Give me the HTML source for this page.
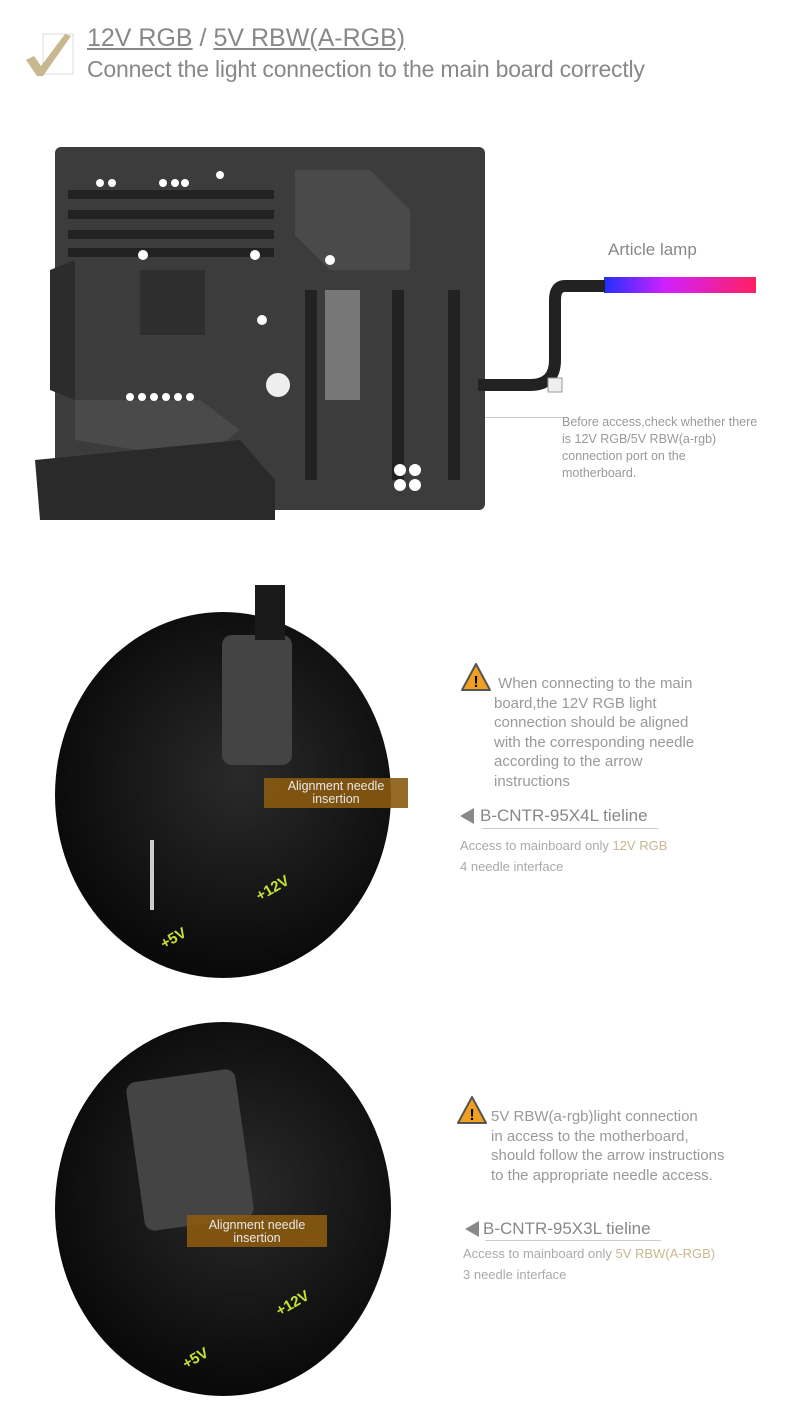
<!DOCTYPE html>
<html><head><meta charset="utf-8"><style>
body{margin:0;width:792px;height:1418px;background:#fff;position:relative;overflow:hidden;font-family:"Liberation Sans",sans-serif}
.a{position:absolute}
.t{color:#8a8a8a}
</style></head><body>
<svg class="a" style="left:25px;top:30px" width="55" height="50"><rect x="18" y="4" width="30" height="40" fill="none" stroke="#ddd"/><path d="M1 30 L9 26 L16 36 L40 4 L46 6 L18 46 L12 46 Z" fill="#c8b890"/></svg>
<div class="a t" style="left:87px;top:24px;font-size:25px;color:#888"><u>12V RGB</u> / <u>5V RBW(A-RGB)</u></div>
<div class="a t" style="left:87px;top:56px;font-size:23px;color:#888;letter-spacing:-0.2px">Connect the light connection to the main board correctly</div>

<!-- motherboard -->
<svg class="a" style="left:30px;top:140px" width="470" height="385">
<rect x="25" y="7" width="430" height="363" rx="6" fill="#3c3c3c"/>
<rect x="38" y="50" width="206" height="9" fill="#222"/><rect x="38" y="70" width="206" height="9" fill="#222"/><rect x="38" y="90" width="206" height="9" fill="#222"/><rect x="38" y="108" width="206" height="9" fill="#222"/>
<path d="M265 30 L340 30 L380 70 L380 130 L300 130 L265 95 Z" fill="#4a4a4a"/>
<rect x="110" y="130" width="65" height="65" fill="#2e2e2e"/>
<rect x="295" y="150" width="35" height="110" fill="#777"/>
<rect x="275" y="150" width="12" height="190" fill="#222"/><rect x="362" y="150" width="12" height="190" fill="#222"/><rect x="418" y="150" width="12" height="190" fill="#222"/>
<path d="M20 130 L45 120 L45 260 L20 250 Z" fill="#2c2c2c"/>
<path d="M45 260 L170 260 L210 290 L170 320 L45 300 Z" fill="#4a4a4a"/>
<path d="M5 320 L210 300 L245 340 L245 380 L10 380 Z" fill="#2a2a2a"/>
<circle cx="248" cy="245" r="12" fill="#eee"/>
<g fill="#fff"><circle cx="70" cy="43" r="4"/><circle cx="82" cy="43" r="4"/><circle cx="133" cy="43" r="4"/><circle cx="145" cy="43" r="4"/><circle cx="155" cy="43" r="4"/><circle cx="190" cy="35" r="4"/><circle cx="113" cy="115" r="5"/><circle cx="225" cy="115" r="5"/><circle cx="300" cy="120" r="5"/><circle cx="232" cy="180" r="5"/><circle cx="100" cy="257" r="4"/><circle cx="112" cy="257" r="4"/><circle cx="124" cy="257" r="4"/><circle cx="136" cy="257" r="4"/><circle cx="148" cy="257" r="4"/><circle cx="160" cy="257" r="4"/><circle cx="370" cy="330" r="6"/><circle cx="385" cy="330" r="6"/><circle cx="370" cy="345" r="6"/><circle cx="385" cy="345" r="6"/></g>
</svg>
<!-- lamp -->
<div class="a t" style="left:608px;top:240px;font-size:17px;color:#888">Article lamp</div>
<div class="a" style="left:604px;top:277px;width:152px;height:16px;background:linear-gradient(90deg,#2030ff,#d020ff 40%,#ff2060)"></div>
<svg class="a" style="left:470px;top:280px" width="140" height="140"><path d="M135 6 L95 6 Q85 6 85 20 L85 80 Q85 105 60 105 L8 105" fill="none" stroke="#222" stroke-width="12"/><rect x="78" y="98" width="14" height="14" fill="#eee" stroke="#999"/></svg>
<div class="a" style="left:485px;top:417px;width:80px;height:1px;background:#ccc"></div>
<div class="a t" style="left:562px;top:414px;font-size:12.5px;line-height:17px;color:#999;width:200px">Before access,check whether there is 12V RGB/5V RBW(a-rgb) connection port on the motherboard.</div>

<!-- circle 1 -->
<div class="a" style="left:55px;top:612px;width:336px;height:366px;border-radius:50%;background:radial-gradient(circle at 55% 45%,#2a2a2a,#0a0a0a 70%)"></div>
<div class="a" style="left:222px;top:635px;width:70px;height:130px;background:#444;border-radius:10px"></div>
<div class="a" style="left:255px;top:585px;width:30px;height:55px;background:#1a1a1a"></div>
<div class="a" style="left:264px;top:778px;width:144px;height:30px;background:#8a5a10;opacity:.9;color:#fff;font-size:12.5px;text-align:center;line-height:13px;padding-top:2px;box-sizing:border-box">Alignment needle<br>insertion</div>
<div class="a" style="left:150px;top:840px;width:70px;height:70px;border-left:4px solid #ccc"></div>
<div class="a" style="left:160px;top:930px;color:#c8e030;font-size:15px;font-weight:bold;transform:rotate(-30deg)">+5V</div>
<div class="a" style="left:255px;top:880px;color:#c8e030;font-size:15px;font-weight:bold;transform:rotate(-30deg)">+12V</div>

<svg class="a" style="left:460px;top:662px" width="32" height="30"><path d="M16 2 L30 28 L2 28 Z" fill="#f0a020" stroke="#555" stroke-width="2" stroke-linejoin="round"/><text x="16" y="25" font-size="16" text-anchor="middle" font-weight="bold">!</text></svg>
<div class="a t" style="left:494px;top:674px;font-size:15px;line-height:19.5px;color:#999;width:250px">&nbsp;When connecting to the main<br>board,the 12V RGB light<br>connection should be aligned<br>with the corresponding needle<br>according to the arrow<br>instructions</div>
<div class="a" style="left:460px;top:808px;width:0;height:0;border-top:8px solid transparent;border-bottom:8px solid transparent;border-right:14px solid #888"></div>
<div class="a t" style="left:480px;top:806px;font-size:17px;color:#888">B-CNTR-95X4L tieline</div>
<div class="a" style="left:482px;top:828px;width:176px;height:1px;background:#ccc"></div>
<div class="a t" style="left:460px;top:835px;font-size:13px;line-height:21px;color:#aaa">Access to mainboard only <span style="color:#c8b890">12V RGB</span><br>4 needle interface</div>

<!-- circle 2 -->
<div class="a" style="left:55px;top:1022px;width:336px;height:374px;border-radius:50%;background:radial-gradient(circle at 55% 45%,#2a2a2a,#0a0a0a 70%)"></div>
<div class="a" style="left:135px;top:1075px;width:110px;height:150px;background:#444;border-radius:10px;transform:rotate(-8deg)"></div>
<div class="a" style="left:187px;top:1215px;width:140px;height:32px;background:#8a5a10;opacity:.9;color:#fff;font-size:12.5px;text-align:center;line-height:13px;padding-top:4px;box-sizing:border-box">Alignment needle<br>insertion</div>
<div class="a" style="left:182px;top:1350px;color:#c8e030;font-size:15px;font-weight:bold;transform:rotate(-30deg)">+5V</div>
<div class="a" style="left:275px;top:1295px;color:#c8e030;font-size:15px;font-weight:bold;transform:rotate(-30deg)">+12V</div>

<svg class="a" style="left:456px;top:1095px" width="32" height="30"><path d="M16 2 L30 28 L2 28 Z" fill="#f0a020" stroke="#555" stroke-width="2" stroke-linejoin="round"/><text x="16" y="25" font-size="16" text-anchor="middle" font-weight="bold">!</text></svg>
<div class="a t" style="left:491px;top:1107px;font-size:15px;line-height:19.5px;color:#999;width:290px">5V RBW(a-rgb)light connection<br>in access to the motherboard,<br>should follow the arrow instructions<br>to the appropriate needle access.</div>
<div class="a" style="left:465px;top:1221px;width:0;height:0;border-top:8px solid transparent;border-bottom:8px solid transparent;border-right:14px solid #888"></div>
<div class="a t" style="left:483px;top:1219px;font-size:17px;color:#888">B-CNTR-95X3L tieline</div>
<div class="a" style="left:485px;top:1240px;width:176px;height:1px;background:#ccc"></div>
<div class="a t" style="left:463px;top:1243px;font-size:13px;line-height:21px;color:#aaa">Access to mainboard only <span style="color:#c8b890">5V RBW(A-RGB)</span><br>3 needle interface</div>
</body></html>
